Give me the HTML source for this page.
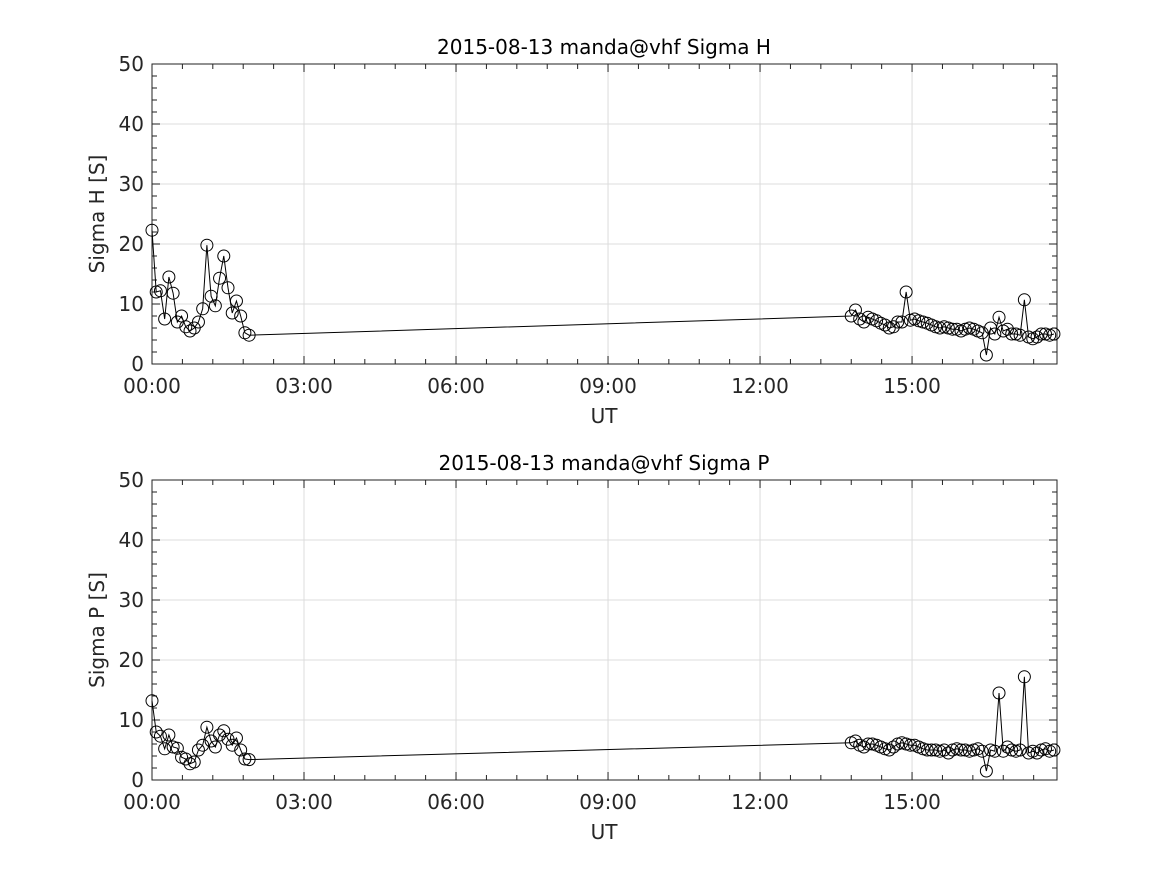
<!DOCTYPE html>
<html><head><meta charset="utf-8"><style>
body{margin:0;background:#fff;}
svg{display:block;font-family:"DejaVu Sans","Liberation Sans",sans-serif;}
</style></head><body>
<svg id="fig" width="1167" height="875" viewBox="0 0 1167 875" xmlns="http://www.w3.org/2000/svg"></svg>
<script>
const leftTimes=[0,5,10,15,20,25,30,35,40,45,50,55,60,65,70,75,80,85,90,95,100,105,110,115];
const hLeft=[22.3,12,12.2,7.5,14.5,11.8,7,8,6.2,5.5,6,7,9.2,19.8,11.3,9.7,14.3,18,12.7,8.5,10.5,8,5.2,4.8];
const pLeft=[13.2,8,7.3,5.2,7.5,5.5,5.3,3.8,3.5,2.7,3,5,5.8,8.8,6.5,5.5,7.5,8.2,6.8,5.8,7,5,3.5,3.4];
const rightStart=828;
const hRight=[8,9,7.5,7,7.8,7.5,7.2,6.8,6.5,6,6.2,7,7,12,7.3,7.5,7.2,7,6.8,6.5,6.2,6,6.2,6,5.8,5.8,5.5,5.8,6,5.8,5.5,5.2,1.5,6,5,7.8,5.5,5.8,5,5,4.8,10.7,4.5,4.2,4.5,5,5,4.8,5];
const pRight=[6.2,6.5,5.8,5.5,6,6,5.8,5.5,5.2,5,5.5,6,6.2,6,5.8,5.8,5.5,5.2,5,5,5,4.8,5,4.5,5,5.2,5,5,4.8,5,5.2,4.8,1.5,5,4.8,14.5,4.8,5.5,5,4.8,5,17.2,4.5,4.8,4.5,5,5.2,4.8,5];
const xTickLabels=["00:00","03:00","06:00","09:00","12:00","15:00"];
const yTicks=[0,10,20,30,40,50];

const NS="http://www.w3.org/2000/svg";
const svg=document.getElementById('fig');
function mk(tag,attrs,parent){const e=document.createElementNS(NS,tag);for(const k in attrs)e.setAttribute(k,attrs[k]);(parent||svg).appendChild(e);return e;}

const X0=152,X1=1057,PXH=50.67;
function drawPanel(top,title,ylabel,vals,prefix){
  const Y0=top,Y1=top+300;
  const xs=m=>X0+m/60*PXH;
  const ys=v=>Y1-v/50*300;
  const g=mk('g',{});
  
  
  // grid
  xTickLabels.forEach((l,i)=>{const x=xs(i*180);
    if(i>0){const gl=mk('line',{x1:x,x2:x,y1:Y0,y2:Y1,stroke:'#dcdcdc','stroke-width':1},g);
    }
  });
  yTicks.forEach(v=>{const y=ys(v);
    if(v>0&&v<50){const gl=mk('line',{x1:X0,x2:X1,y1:y,y2:y,stroke:'#dcdcdc','stroke-width':1},g);
    }
  });
  // ticks
  for(let m=0;m<=1072;m+=36){const x=xs(m);const len=(m%180===0)?8:5;
    mk('line',{x1:x,x2:x,y1:Y1,y2:Y1-len,stroke:'#222'},g);
    mk('line',{x1:x,x2:x,y1:Y0,y2:Y0+len,stroke:'#222'},g);}
  for(let v=0;v<=50;v+=2){const y=ys(v);const len=(v%10===0)?8:5;
    mk('line',{x1:X0,x2:X0+len,y1:y,y2:y,stroke:'#222'},g);
    mk('line',{x1:X1,x2:X1-len,y1:y,y2:y,stroke:'#222'},g);}
  const box=mk('rect',{x:X0,y:Y0,width:X1-X0,height:300,fill:'none',stroke:'#222','stroke-width':1},g);
  
  // labels
  xTickLabels.forEach((l,i)=>{const t=mk('text',{x:xs(i*180),y:Y1+29,'text-anchor':'middle','font-size':20,fill:'#262626'},g);t.textContent=l;
    });
  yTicks.forEach(v=>{const t=mk('text',{x:X0-8,y:ys(v)+7,'text-anchor':'end','font-size':20,fill:'#262626'},g);t.textContent=v;
    });
  const tt=mk('text',{x:604,y:Y0-10,'text-anchor':'middle','font-size':20,fill:'#000'},g);tt.textContent=title;
  
  const xl=mk('text',{x:604,y:Y1+59,'text-anchor':'middle','font-size':20,fill:'#262626'},g);xl.textContent='UT';
  
  const yl=mk('text',{x:0,y:0,'text-anchor':'middle','font-size':20,fill:'#262626',transform:`translate(104,${(Y0+Y1)/2}) rotate(-90)`},g);yl.textContent=ylabel;
  
  // data
  const pts=[];
  leftTimes.forEach((m,i)=>pts.push([xs(m),ys(vals[0][i])]));
  vals[1].forEach((v,i)=>pts.push([xs(rightStart+i*5),ys(v)]));
  const line=mk('polyline',{points:pts.map(p=>p.join(',')).join(' '),fill:'none',stroke:'#000','stroke-width':1},g);
  
  pts.forEach(p=>{const c=mk('circle',{cx:p[0],cy:p[1],r:6,fill:'none',stroke:'#000','stroke-width':1},g);
    });
}
drawPanel(64,'2015-08-13  manda@vhf Sigma H','Sigma H [S]',[hLeft,hRight],'sigma-h');
drawPanel(480,'2015-08-13  manda@vhf Sigma P','Sigma P [S]',[pLeft,pRight],'sigma-p');
</script>
</body></html>
